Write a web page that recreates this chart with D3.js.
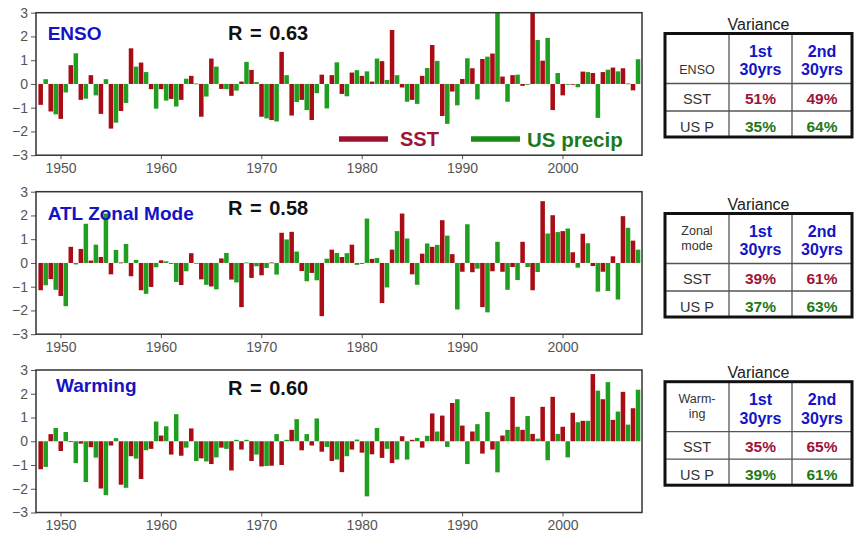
<!DOCTYPE html>
<html>
<head>
<meta charset="utf-8">
<script src="https://cdn.jsdelivr.net/npm/d3@7"></script>
<style>
  body { margin: 0; background: #fff; }
  svg { display: block; font-family: "Liberation Sans", Arial, sans-serif; }
</style>
</head>
<body>
<div id="chart"></div>
<script>
// Three SST vs US precip panels (1948-2007) with variance tables on the right

const years = d3.range(1948, 2008);

const ensoSST = [-0.88, -1.16, -1.47, 0.79, -0.67, 0.37, -1.26, -1.88, -1.14, 1.5,
  0.9, -0.22, -0.22, -0.63, -0.67, 0.34, -1.38, 1.07, -0.21, -0.5,
  0.1, 0.59, -1.38, -1.52, 1.35, -1.33, -0.67, -1.52, 0.39, 0.37,
  -0.42, 0.48, 0.34, 0.1, 0.96, 2.27, -0.15, -0.67, 0.34, 1.64,
  -1.35, -0.32, 0.21, 0.66, 1.05, 1.28, 0.31, 0.37, -0.08, 3.6,
  0.98, -1.1, -0.48, -0.03, 0.52, 0.46, 0.5, 0.69, 0.66, -0.27];
const ensoPrecip = [0.2, -1.28, -0.36, 1.29, -0.62, -0.48, 0.2, -1.63, -0.8, 0.73,
  0.5, -1.04, -0.7, -0.95, 0.22, 0.02, -0.53, 0.73, -0.22, -0.28,
  0.93, 0.08, -1.45, -1.58, 0.37, -0.76, -1.1, -0.39, -1.03, 0.91,
  -0.52, 0.58, 0.53, 1.07, 0.17, 0.37, -0.75, -0.84, 0.67, 0.97,
  -1.68, -0.9, 1.08, -0.65, 1.15, 3.4, -0.75, 0.39, -0.02, 1.85,
  1.94, 0.46, -0.03, -0.14, 0.5, -1.43, 0.6, 0.53, 0.02, 1.04];

const atlSST = [-1.15, -0.68, -1.39, 0.68, 0.59, 0.1, 0.25, -0.48, 0.02, -0.56,
  -1.15, -1.01, 0.11, -0.02, -0.93, 0.41, -0.69, -0.99, 0.19, -0.7,
  -1.86, -0.63, -0.52, 0.02, 1.27, 1.31, -0.34, -0.42, -2.24, 0.56,
  0.25, 0.77, -0.02, 0.17, -1.69, 0.56, 2.08, -0.48, 0.39, 0.68,
  1.8, 0.37, -0.37, -0.39, -1.86, -0.35, -0.37, -0.17, 0.89, -1.15,
  2.6, 2.01, 1.34, 0.45, 1.23, -0.13, -0.37, 0.28, 1.97, 0.94];
const atlPrecip = [-0.94, -1.13, -1.82, -0.06, 1.65, 0.77, 2.08, 0.55, 0.8, 0.13,
  -1.3, -0.18, 0.07, -0.8, -0.35, -0.02, -0.92, -1.11, 0.42, -0.82,
  0.02, -0.14, -0.21, -0.49, 0.99, 0.48, -0.77, -0.73, 0.18, 0.42,
  0.41, -0.08, 1.87, 0.21, -1.03, 1.34, 1.03, -0.92, 0.82, 0.76,
  1.15, -1.96, 1.63, -0.24, -2.08, 0.89, -1.13, -0.72, -0.17, -0.38,
  1.24, 1.3, 1.45, -0.2, 0.83, -1.21, -1.18, -1.54, 1.48, 0.56];

const warmSST = [-1.18, 0.3, -0.41, -0.02, -0.1, -0.25, -1.99, -0.18, -1.83, -0.63,
  -1.59, -0.32, 0.24, -0.56, -0.61, 0.54, -0.72, -0.96, -0.27, -1.23,
  -0.35, -0.83, -1.06, -1.03, -1.0, 0.48, -0.38, -0.18, -0.44, -0.83,
  -1.3, -0.35, -0.48, -0.55, -0.7, -0.92, 0.21, 0.06, -0.27, 1.17,
  1.08, 1.61, 0.66, 0.41, -0.52, -0.35, 0.24, 1.87, 0.48, 0.31,
  1.45, 1.87, 0.61, 1.2, 0.86, 2.83, 1.77, 0.9, 2.08, 1.39];
const warmPrecip = [-1.08, 0.56, 0.39, -0.92, -1.72, -0.69, -2.27, 0.13, -1.96, -0.73,
  -0.38, 0.83, 0.63, 1.14, -0.27, -0.83, -0.85, -0.68, -0.32, 0.06,
  0.06, -0.56, -1.04, 0.3, 0.06, 0.93, 0.3, 0.96, -0.24, -0.77,
  -0.63, 0.07, -2.32, 0.56, -0.32, -0.77, -0.77, 0.14, 0.23, 0.41,
  -0.24, 1.77, -0.96, 0.72, 1.23, -1.31, 0.48, 0.61, 1.06, 0.11,
  -0.8, 0.31, -0.68, 0.8, 0.86, 2.13, 2.49, 1.25, 0.7, 2.17];

const panelTitles = ['ENSO', 'ATL Zonal Mode', 'Warming'];
const correlations = ['0.63', '0.58', '0.60'];
const yTicks = [-3, -2, -1, 0, 1, 2, 3];
const xTicks = [1950, 1960, 1970, 1980, 1990, 2000];

const tableLabels = [['ENSO'], ['Zonal', 'mode'], ['Warm-', 'ing']];
const colHeads = [['1st', '30yrs'], ['2nd', '30yrs']];
const sstVariance = [[51, 49], [39, 61], [35, 65]];
const precipVariance = [[35, 64], [37, 63], [39, 61]];

const W = 856, H = 533;
const RED = '#a80c14', GREEN = '#1f9e1f';
const TXT_RED = '#9e1438', TXT_GREEN = '#1b7a1b', BLUE = '#1414c4';

// panel layout
const PL = 36, PR = 642, PH = 142.5;
const panelTop = [12.7, 191.7, 370];
const titlePos = [[47.7, 40], [47.7, 220], [56, 392]];
const rBase = [39.5, 215, 395];
const tableTop = [33.5, 213.5, 381.7];

const svg = d3.select('#chart').append('svg')
  .attr('width', W)
  .attr('height', H);

const x = d3.scaleLinear().domain([1947.56, 2007.92]).range([PL, PR]);
const barW = x(1948.45) - x(1948);

const series = [[ensoSST, ensoPrecip], [atlSST, atlPrecip], [warmSST, warmPrecip]];

series.forEach(function(s, p) {
  const top = panelTop[p];
  const y = d3.scaleLinear().domain([-3, 3]).range([top + PH, top]);
  const g = svg.append('g');

  g.append('clipPath').attr('id', 'clip' + p)
    .append('rect')
    .attr('x', PL).attr('y', top).attr('width', PR - PL).attr('height', PH);

  const bars = g.append('g').attr('clip-path', 'url(#clip' + p + ')');

  [[s[0], -0.2, RED], [s[1], 0.3, GREEN]].forEach(function(d) {
    bars.append('g').selectAll('rect')
      .data(d[0])
      .join('rect')
      .attr('x', function(v, i) { return x(years[i] + d[1]); })
      .attr('y', function(v) { return y(Math.max(0, v)); })
      .attr('width', barW)
      .attr('height', function(v) { return Math.max(0.8, Math.abs(y(v) - y(0))); })
      .attr('fill', d[2]);
  });

  // axes
  const ya = g.append('g')
    .attr('transform', 'translate(' + PL + ',0)')
    .call(d3.axisLeft(y).tickValues(yTicks).tickSize(5).tickPadding(3).tickFormat(d3.format('d')));
  const xa = g.append('g')
    .attr('transform', 'translate(0,' + (top + PH) + ')')
    .call(d3.axisBottom(x).tickValues(xTicks).tickSize(4).tickPadding(4).tickFormat(d3.format('d')));
  [ya, xa].forEach(function(a) {
    a.select('.domain').remove();
    a.selectAll('line').attr('stroke', '#555');
    a.selectAll('text')
      .attr('fill', '#555')
      .attr('font-size', 14)
      .attr('font-family', '"Liberation Sans", Arial, sans-serif');
  });

  g.append('rect')
    .attr('x', PL).attr('y', top)
    .attr('width', PR - PL).attr('height', PH)
    .attr('fill', 'none')
    .attr('stroke', '#333')
    .attr('stroke-width', 1.5);

  g.append('text')
    .attr('x', titlePos[p][0]).attr('y', titlePos[p][1])
    .attr('fill', BLUE)
    .attr('font-size', 19)
    .attr('font-weight', 'bold')
    .text(panelTitles[p]);

  g.append('text')
    .attr('x', 228).attr('y', rBase[p])
    .attr('fill', '#111')
    .attr('font-size', 20)
    .attr('font-weight', 'bold')
    .attr('word-spacing', 2)
    .text('R = ' + correlations[p]);
});

// legend (first panel)
const leg = svg.append('g');
leg.append('line').attr('x1', 339).attr('x2', 388).attr('y1', 139).attr('y2', 139)
  .attr('stroke', '#a0102e').attr('stroke-width', 5.5);
leg.append('text').attr('x', 400).attr('y', 146).attr('fill', TXT_RED)
  .attr('font-size', 20).attr('font-weight', 'bold').text('SST');
leg.append('line').attr('x1', 471).attr('x2', 520).attr('y1', 139).attr('y2', 139)
  .attr('stroke', '#168c16').attr('stroke-width', 5.5);
leg.append('text').attr('x', 527).attr('y', 146.5).attr('fill', TXT_GREEN)
  .attr('font-size', 20.5).attr('font-weight', 'bold').text('US precip');

// variance tables
const TX = [665, 729, 792, 852];
const TR = [0, 50, 77.5, 103.5];
const colC = [697, 760.5, 822];

tableTop.forEach(function(T, k) {
  const g = svg.append('g');

  g.append('text')
    .attr('x', 758.5).attr('y', T - 3.5)
    .attr('text-anchor', 'middle')
    .attr('fill', '#222').attr('font-size', 16)
    .text('Variance');

  // inner grid lines
  [TX[1], TX[2]].forEach(function(cx) {
    g.append('line').attr('x1', cx).attr('x2', cx).attr('y1', T).attr('y2', T + TR[3])
      .attr('stroke', '#555').attr('stroke-width', 1.3);
  });
  [TR[1], TR[2]].forEach(function(ry) {
    g.append('line').attr('x1', TX[0]).attr('x2', TX[3]).attr('y1', T + ry).attr('y2', T + ry)
      .attr('stroke', '#555').attr('stroke-width', 1.3);
  });
  g.append('rect')
    .attr('x', TX[0]).attr('y', T)
    .attr('width', TX[3] - TX[0]).attr('height', TR[3])
    .attr('fill', 'none').attr('stroke', '#111').attr('stroke-width', 3);

  // row label cell
  const lab = tableLabels[k];
  lab.forEach(function(s, i) {
    g.append('text')
      .attr('x', colC[0])
      .attr('y', lab.length === 1 ? T + 40 : T + 21 + i * 15)
      .attr('text-anchor', 'middle')
      .attr('fill', '#333').attr('font-size', 12.5)
      .text(s);
  });

  colHeads.forEach(function(h, c) {
    h.forEach(function(s, i) {
      g.append('text')
        .attr('x', colC[c + 1]).attr('y', T + 23.5 + i * 18.3)
        .attr('text-anchor', 'middle')
        .attr('fill', BLUE).attr('font-size', 16).attr('font-weight', 'bold')
        .text(s);
    });
  });

  [['SST', sstVariance[k], TXT_RED, 70.5], ['US P', precipVariance[k], TXT_GREEN, 98]].forEach(function(r) {
    g.append('text')
      .attr('x', colC[0]).attr('y', T + r[3])
      .attr('text-anchor', 'middle')
      .attr('fill', '#333').attr('font-size', 14.5)
      .text(r[0]);
    r[1].forEach(function(v, c) {
      g.append('text')
        .attr('x', colC[c + 1]).attr('y', T + r[3])
        .attr('text-anchor', 'middle')
        .attr('fill', r[2]).attr('font-size', 15.5).attr('font-weight', 'bold')
        .text(v + '%');
    });
  });
});
</script>
</body>
</html>
